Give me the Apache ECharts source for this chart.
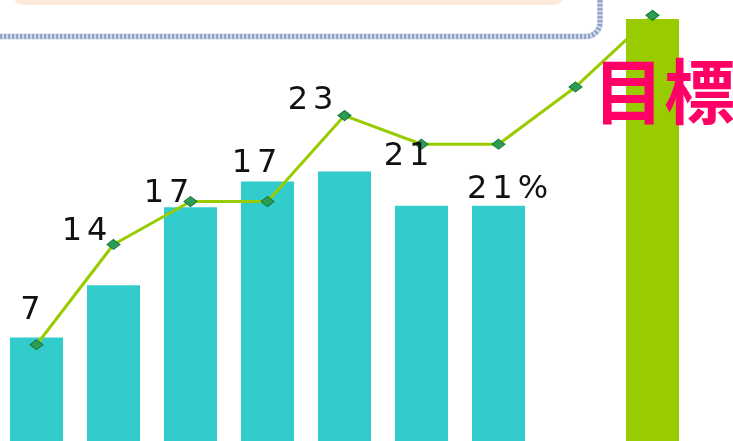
<!DOCTYPE html>
<html>
<head>
<meta charset="utf-8">
<script src="https://cdn.jsdelivr.net/npm/echarts@6/dist/echarts.min.js"></script>
<style>
html,body{margin:0;padding:0;background:#fff;overflow:hidden;width:733px;height:441px;}
#main{position:absolute;left:-2px;top:0;width:735px;height:446px;}
</style>
</head>
<body>
<div id="main"></div>
<script>
// 資料
var categories = ['1', '2', '3', '4', '5', '6', '7', '8', '9'];
var barValues = [7.5, 11.15, 16.6, 18.4, 19.1, 16.7, 16.7, null, 29.75];
var lineValues = [7, 14, 17, 17, 23, 21, 21, 25, 30];
var lineLabels = ['7', '14', '17', '17', '23', '21', '21%', '', ''];
var goalText = '目標';

// 標籤相對於點的位移
var labelOffsets = [[-6, -34], [-29, -13], [-24, -8], [-13, -38], [-34, -15], [-15, 12], [9, 45], [0, 0], [0, 0]];

var myChart = echarts.init(document.getElementById('main'));

var barData = barValues.map(function (v, i) {
  if (i == barValues.length - 1) {
    return { value: v, itemStyle: { color: '#99CC00' } };
  }
  return v;
});

// 字距加寬：每個字元包成 rich 片段
function spaced(s) {
  return s.split('').map(function (c) { return '{d|' + c + '}'; }).join('');
}

var lineData = lineValues.map(function (v, i) {
  return {
    value: v,
    label: {
      show: lineLabels[i] != '',
      formatter: spaced(lineLabels[i]),
      position: 'inside',
      offset: labelOffsets[i]
    }
  };
});

option = {
  animation: false,
  backgroundColor: '#fff',
  grid: { left: 0, right: 42, top: 1, bottom: 1 },
  xAxis: {
    type: 'category',
    data: categories,
    show: false
  },
  yAxis: {
    type: 'value',
    min: 0,
    max: 31,
    show: false
  },
  graphic: [
    {
      type: 'rect',
      z: 1,
      shape: { x: 14, y: -30, width: 553, height: 35, r: 12 },
      style: { fill: '#FDE9D9' }
    },
    {
      type: 'rect',
      z: 1,
      shape: { x: -30, y: -40, width: 632, height: 76.5, r: 14 },
      style: { fill: null, stroke: '#d3dbeb', lineWidth: 6 }
    },
    {
      type: 'rect',
      z: 1,
      shape: { x: -30, y: -40, width: 632, height: 76.5, r: 14 },
      style: { fill: null, stroke: '#8c9dc4', lineWidth: 5, lineDash: [2, 2] }
    },
    {
      type: 'text',
      z: 100,
      x: 595,
      y: 91,
      style: {
        text: goalText,
        fill: '#FF0066',
        font: 'bold 71px "Noto Sans CJK JP"',
        textAlign: 'left',
        textVerticalAlign: 'middle'
      }
    }
  ],
  series: [
    {
      type: 'bar',
      data: barData,
      barWidth: 53,
      itemStyle: { color: '#33CCCC' },
      z: 2
    },
    {
      type: 'line',
      data: lineData,
      z: 5,
      symbol: 'diamond',
      symbolSize: [13, 10],
      lineStyle: { color: '#99CC00', width: 3 },
      itemStyle: { color: '#2E9B57', borderColor: '#0F7A2E', borderWidth: 1 },
      label: {
        align: 'center',
        verticalAlign: 'middle',
        rich: {
          d: {
            color: '#111',
            fontSize: 32,
            fontFamily: 'DejaVu Sans',
            padding: [0, 2.5]
          }
        }
      }
    }
  ]
};

myChart.setOption(option);
</script>
</body>
</html>
